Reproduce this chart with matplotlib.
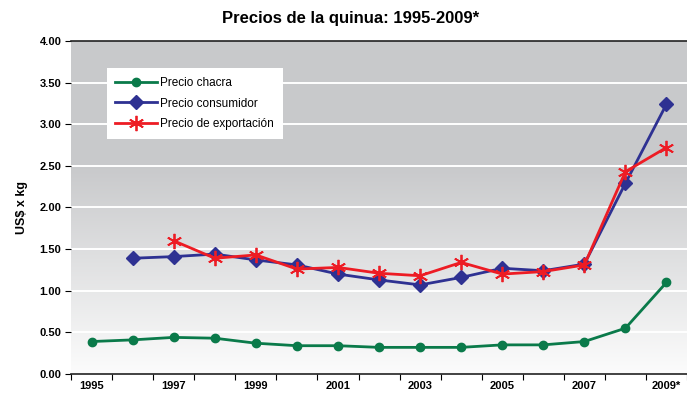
import numpy as np
import matplotlib
matplotlib.use('Agg')
import matplotlib.pyplot as plt
from matplotlib.colors import LinearSegmentedColormap

plt.rcParams['font.family'] = ['Liberation Sans', 'DejaVu Sans']

years = list(range(1995, 2010))
tick_labels = ['1995', '1997', '1999', '2001', '2003', '2005', '2007', '2009*']

# precios en US$ por kg
chacra = [0.39, 0.41, 0.44, 0.43, 0.37, 0.34, 0.34, 0.32, 0.32, 0.32,
          0.35, 0.35, 0.39, 0.55, 1.10]
consumidor = [None, 1.39, 1.41, 1.44, 1.37, 1.31, 1.20, 1.13, 1.07, 1.16,
              1.27, 1.24, 1.32, 2.29, 3.24]
exportacion = [None, None, 1.60, 1.39, 1.43, 1.26, 1.28, 1.21, 1.18, 1.34,
               1.20, 1.23, 1.31, 2.43, 2.72]


def to_arr(vals):
    return np.array([np.nan if v is None else v for v in vals], dtype=float)


x = np.arange(len(years))

fig = plt.figure(figsize=(6.87, 4.05), dpi=100)
ax = fig.add_axes([0.1035, 0.0765, 0.8965, 0.8225])

# fondo degradado
grad_top, grad_low = 2.5, 0.0
cmap = LinearSegmentedColormap.from_list('bg', ['#fcfcfc', '#c8c9cb'])
ax.axhspan(grad_top, 4, color='#c8c9cb', zorder=0, lw=0)
grad = np.linspace(0, 1, 256).reshape(-1, 1)
ax.imshow(grad, cmap=cmap, origin='lower', aspect='auto',
          extent=(-0.5, len(years) - 0.5, grad_low, grad_top), zorder=0)
ax.set_xlim(-0.5, len(years) - 0.5)
ax.set_ylim(0, 4)

for yv in np.arange(0.5, 4.0, 0.5):
    ax.axhline(yv, color='white', lw=1.4, zorder=1)

ax.plot(x, to_arr(chacra), color='#0a7a4a', lw=2, marker='o', ms=6,
        label='Precio chacra', zorder=3)
ax.plot(x, to_arr(consumidor), color='#2e3192', lw=2, marker='D', ms=7.5,
        label='Precio consumidor', zorder=3)
ax.plot(x, to_arr(exportacion), color='#ed1c24', lw=2, marker=(6, 2, 0),
        ms=11, mew=1.3, label='Precio de exportación', zorder=4)

ax.set_yticks(np.arange(0, 4.01, 0.5))
ax.set_yticklabels([f'{v:.2f}' for v in np.arange(0, 4.01, 0.5)],
                   fontsize=8, fontweight='bold')
ax.set_xticks(np.arange(-0.5, len(years), 1.0))
ax.set_xticklabels([])
ax.set_xticks(x[::2], minor=True)
ax.set_xticklabels(tick_labels, minor=True, fontsize=8, fontweight='bold')
ax.tick_params(axis='x', which='minor', length=0, pad=5)
ax.tick_params(axis='x', which='major', length=4, direction='out')
ax.tick_params(axis='y', length=4, direction='out', pad=3)

for side in ['right', 'left']:
    ax.spines[side].set_visible(False)
ax.spines['top'].set_color('#222222')
ax.spines['top'].set_linewidth(1.2)
ax.spines['bottom'].set_color('#222222')
ax.spines['bottom'].set_linewidth(1.2)

ax.set_ylabel('US$ x kg', fontsize=9, fontweight='bold', labelpad=8)
fig.text(0.51, 0.955, 'Precios de la quinua: 1995-2009*', ha='center',
         va='center', fontsize=12, fontweight='bold')

leg = ax.legend(loc='upper left', bbox_to_anchor=(0.048, 0.935), fontsize=8.5,
                frameon=True, fancybox=False, framealpha=1, edgecolor='white',
                borderpad=0.75, handlelength=3.5, labelspacing=0.7,
                handletextpad=0.3)
leg.get_frame().set_linewidth(0)

fig.savefig('out.png', dpi=100)
